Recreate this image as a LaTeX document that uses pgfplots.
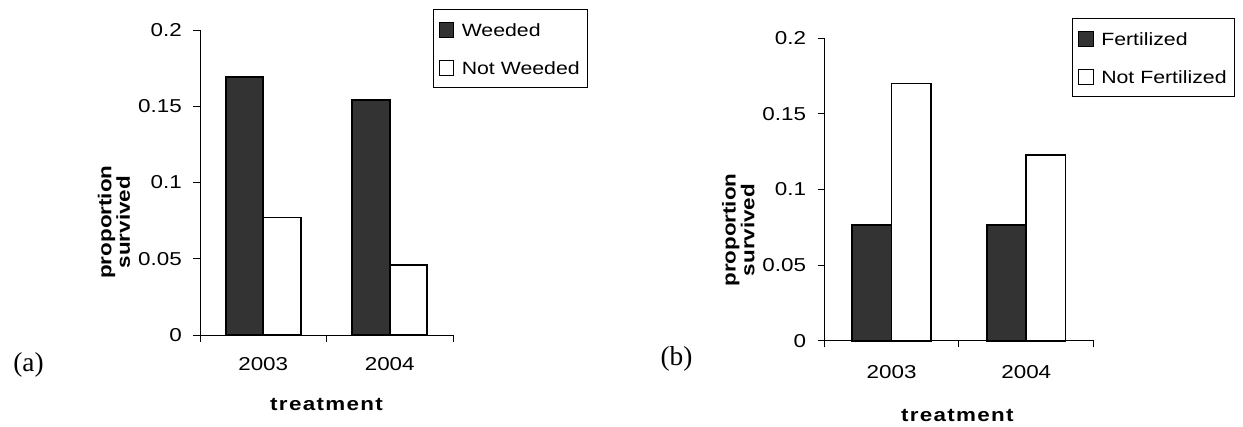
\documentclass[border=0pt]{standalone}
\usepackage{fontspec}
\setmainfont{Liberation Sans}[FakeStretch=1.2]
\newfontfamily\timesf{Liberation Serif}
\newfontfamily\spacedsans{Liberation Sans}[FakeStretch=1.2, LetterSpace=7]
\usepackage{pgfplots}
\pgfplotsset{compat=1.18}
\definecolor{barfill}{HTML}{333333}

\pgfplotsset{
  panel/.style={
    scale only axis,
    clip=false,
    axis x line*=bottom, axis y line*=left,
    axis line style={-, black, line width=0.7pt},
    ymin=0, ymax=0.2,
    ytick={0,0.05,0.1,0.15,0.2},
    yticklabels={0,0.05,0.1,0.15,0.2},
    xmin=-0.5, xmax=1.5,
    xtick={-0.5,0.5,1.5}, xticklabels={},
    extra x ticks={0,1}, extra x tick labels={2003,2004},
    tick align=outside,
    major tick length=5pt,
    tick style={black, line width=0.7pt},
    /pgf/number format/assume math mode=true,
    ticklabel style={font=\fontsize{14}{16}\selectfont},
    yticklabel style={anchor=east, inner sep=0pt, xshift=-8.5pt},
    ybar=0pt,
    legend image code/.code={\draw[#1, line width=0.7pt] (0pt,-5.6pt) rectangle (11.2pt,5.6pt); \path (14.5pt,0pt);},
    legend style={draw=black, line width=0.7pt, anchor=north west,
      font=\fontsize{13.3}{15}\selectfont, inner xsep=4pt, inner ysep=8pt,
      row sep=15pt, nodes={inner sep=2pt, text height=9.7pt, text depth=0pt}},
    legend cell align=left,
    ylabel style={anchor=center, align=center, font=\bfseries\fontsize{14}{14}\selectfont},
    xlabel style={anchor=center, font=\spacedsans\bfseries\fontsize{14}{16}\selectfont},
  }
}

\begin{document}
\begin{tikzpicture}
\useasboundingbox (0,0) rectangle (932.25pt,320.25pt);

% Panel (a)
\begin{axis}[panel,
  at={(150pt,69pt)}, anchor=south west,
  width=189.75pt, height=228.75pt,
  bar width=28.1pt,
  extra x tick style={major tick length=0pt, xticklabel style={anchor=north, inner sep=0pt, yshift=-16.3pt}},
  ylabel={proportion\\survived},
  ylabel style={at={(axis description cs:-0.34,0.37)}},
  xlabel={treatment},
  xlabel style={at={(axis description cs:0.5,-0.2295)}},
  legend style={at={(axis description cs:0.9198,1.0679)}},
]
\addplot[fill=barfill, draw=black, line width=1.2pt] coordinates {(0,0.169) (1,0.154)};
\addplot[fill=white, draw=black, line width=1.2pt] coordinates {(0,0.077) (1,0.046)};
\legend{Weeded, Not Weeded}
\node[font=\timesf\fontsize{20.5}{24}\selectfont] at (axis description cs:-0.678,-0.098) {(a)};
\end{axis}

% Panel (b)
\begin{axis}[panel,
  at={(618.2pt,64.7pt)}, anchor=south west,
  width=202pt, height=226.8pt,
  bar width=29.5pt,
  extra x tick style={major tick length=0pt, xticklabel style={anchor=north, inner sep=0pt, yshift=-18.2pt}},
  ylabel={proportion\\survived},
  ylabel style={at={(axis description cs:-0.319,0.366)}},
  xlabel={treatment},
  xlabel style={at={(axis description cs:0.494,-0.2457)}},
  legend style={at={(axis description cs:0.9206,1.0661)}},
]
\addplot[fill=barfill, draw=black, line width=1.2pt] coordinates {(0,0.0765) (1,0.0765)};
\addplot[fill=white, draw=black, line width=1.2pt] coordinates {(0,0.170) (1,0.123)};
\legend{Fertilized, Not Fertilized}
\node[font=\timesf\fontsize{20.5}{24}\selectfont] at (axis description cs:-0.5486,-0.0589) {(b)};
\end{axis}
\end{tikzpicture}
\end{document}
